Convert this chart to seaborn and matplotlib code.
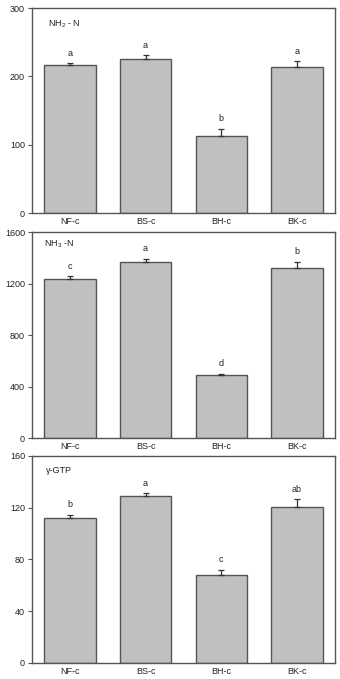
import matplotlib
matplotlib.use("Agg")
import matplotlib.pyplot as plt
import seaborn as sns
import numpy as np
import pandas as pd

categories = ["NF-c", "BS-c", "BH-c", "BK-c"]

nh2_values = [216, 226, 113, 213]
nh2_errors = [3, 5, 10, 9]
nh2_letters = ["a", "a", "b", "a"]

nh3_values = [1234, 1368, 490, 1324]
nh3_errors = [23, 26, 8, 46]
nh3_letters = ["c", "a", "d", "b"]

gtp_values = [111.7, 128.8, 67.6, 120.3]
gtp_errors = [2.6, 2.3, 4.4, 6.2]
gtp_letters = ["b", "a", "c", "ab"]

titles = [r"NH$_2$ - N", r"NH$_3$ -N", "γ-GTP"]
yticks_list = [[0, 100, 200, 300], [0, 400, 800, 1200, 1600], [0, 40, 80, 120, 160]]
ylims = [300, 1600, 160]

sns.set_theme(style="white")
plt.rcParams['font.family'] = ['Liberation Sans', 'DejaVu Sans']
plt.rcParams['mathtext.fontset'] = 'custom'
plt.rcParams['mathtext.rm'] = 'Liberation Sans'
plt.rcParams['mathtext.it'] = 'Liberation Sans'

fig = plt.figure(figsize=(3.4, 6.79), dpi=100)
positions = [
    [0.094, 0.6863, 0.891, 0.3019],
    [0.094, 0.3549, 0.891, 0.3034],
    [0.094, 0.0236, 0.891, 0.3050],
]
panels = [
    (nh2_values, nh2_errors, nh2_letters),
    (nh3_values, nh3_errors, nh3_letters),
    (gtp_values, gtp_errors, gtp_letters),
]
title_pos = [(0.053, 0.92), (0.04, 0.94), (0.045, 0.93)]
edge = "#555555"

for i, (vals, errs, lets) in enumerate(panels):
    ax = fig.add_axes(positions[i])
    df = pd.DataFrame({"cat": categories, "val": vals})
    sns.barplot(data=df, x="cat", y="val", color="#c0c0c0", edgecolor=edge,
                linewidth=1.0, width=0.68, saturation=1, ax=ax, errorbar=None)
    ax.errorbar(np.arange(len(categories)), vals,
                yerr=[np.zeros(len(errs)), errs], fmt="none",
                ecolor="#333333", elinewidth=0.9, capsize=2.2, capthick=0.9)
    for j, (v, e, l) in enumerate(zip(vals, errs, lets)):
        ax.annotate(l, (j, v + e), xytext=(0, 4), textcoords="offset points",
                    ha="center", va="bottom", fontsize=6.5, color="#222222")
    ax.set_xlim(-0.5, 3.5)
    ax.set_ylim(0, ylims[i])
    ax.set_yticks(yticks_list[i])
    ax.set_xlabel("")
    ax.set_ylabel("")
    ax.tick_params(axis="y", which="both", left=True, direction="out", length=3,
                   width=0.8, color=edge, labelsize=6.5, pad=2, labelcolor="#222222")
    ax.tick_params(axis="x", bottom=False, length=0, labelsize=6.5, pad=3,
                   labelcolor="#222222")
    for s in ax.spines.values():
        s.set_color(edge)
        s.set_linewidth(1.0)
        s.set_visible(True)
    ax.text(title_pos[i][0], title_pos[i][1], titles[i], transform=ax.transAxes,
            fontsize=6.5, ha="left", va="center", color="#222222")

fig.savefig("out.png", dpi=100)
